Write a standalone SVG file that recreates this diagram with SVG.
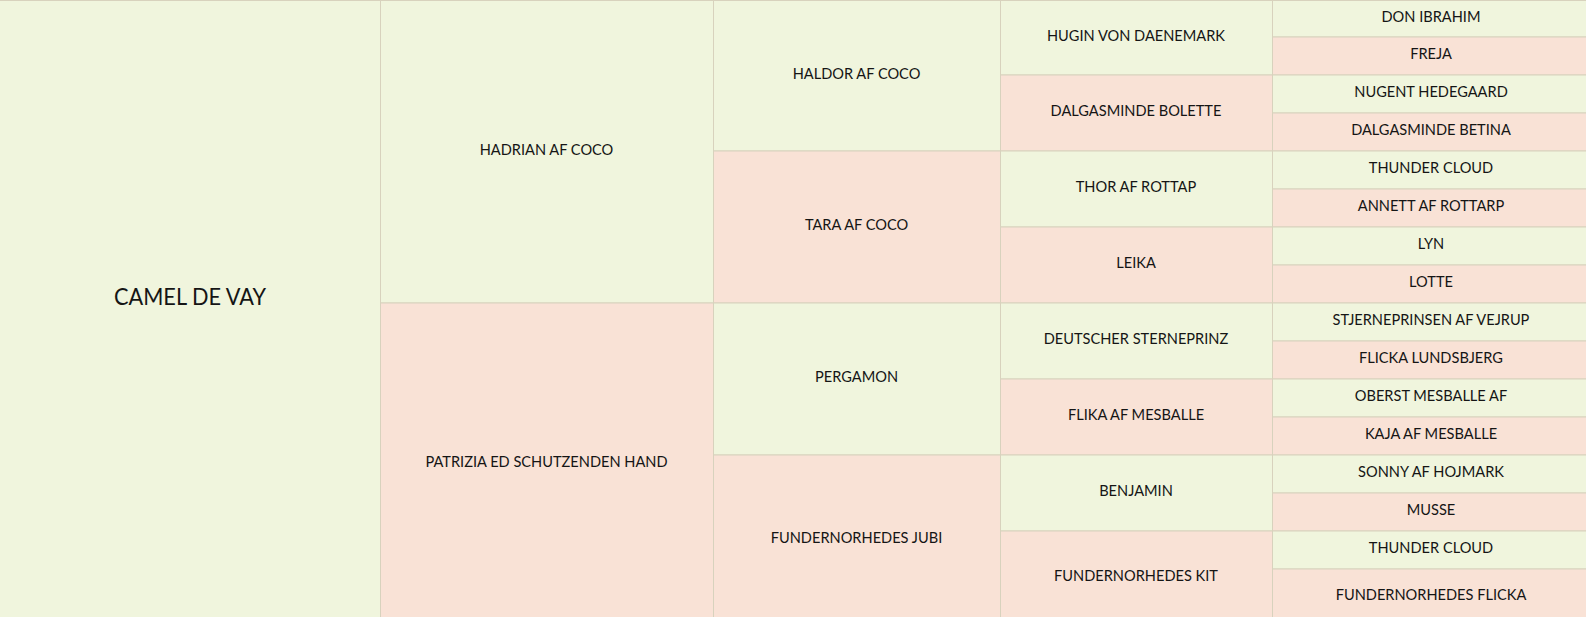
<svg xmlns="http://www.w3.org/2000/svg" width="1586" height="617" viewBox="0 0 1586 617">
<style>
.g{fill:#f0f5dd;stroke:#d8d2bd;stroke-width:1}
.p{fill:#f9e2d6;stroke:#d8d2bd;stroke-width:1}
text{font-family:"Lato","Open Sans",sans-serif;font-size:14.6px;fill:#151515;text-anchor:middle}
.big{font-size:24px}
</style>
<rect x="0" y="0" width="1586" height="617" fill="#f0f5dd"/>
<g id="n1"><rect class="g" x="-1" y="0.5" width="381.5" height="630"/><text class="big" x="190" y="305" textLength="152" lengthAdjust="spacingAndGlyphs">CAMEL DE VAY</text></g>
<g id="n2"><rect class="g" x="380.5" y="0.5" width="333" height="302.5"/><text x="546.5" y="154.8">HADRIAN AF COCO</text></g>
<g id="n3"><rect class="p" x="380.5" y="303" width="333" height="330"/><text x="546.5" y="466.8">PATRIZIA ED SCHUTZENDEN HAND</text></g>
<g id="n4"><rect class="g" x="713.5" y="0.5" width="287" height="150.5"/><text x="856.5" y="78.8">HALDOR AF COCO</text></g>
<g id="n5"><rect class="p" x="713.5" y="151" width="287" height="152"/><text x="856.5" y="230.3">TARA AF COCO</text></g>
<g id="n6"><rect class="g" x="713.5" y="303" width="287" height="152"/><text x="856.5" y="382.3">PERGAMON</text></g>
<g id="n7"><rect class="p" x="713.5" y="455" width="287" height="180"/><text x="856.5" y="542.8">FUNDERNORHEDES JUBI</text></g>
<g id="n8"><rect class="g" x="1000.5" y="0.5" width="272" height="74.5"/><text x="1136" y="40.8">HUGIN VON DAENEMARK</text></g>
<g id="n9"><rect class="p" x="1000.5" y="75" width="272" height="76"/><text x="1136" y="116.3">DALGASMINDE BOLETTE</text></g>
<g id="n10"><rect class="g" x="1000.5" y="151" width="272" height="76"/><text x="1136" y="192.3">THOR AF ROTTAP</text></g>
<g id="n11"><rect class="p" x="1000.5" y="227" width="272" height="76"/><text x="1136" y="268.3">LEIKA</text></g>
<g id="n12"><rect class="g" x="1000.5" y="303" width="272" height="76"/><text x="1136" y="344.3">DEUTSCHER STERNEPRINZ</text></g>
<g id="n13"><rect class="p" x="1000.5" y="379" width="272" height="76"/><text x="1136" y="420.3">FLIKA AF MESBALLE</text></g>
<g id="n14"><rect class="g" x="1000.5" y="455" width="272" height="76"/><text x="1136" y="496.3">BENJAMIN</text></g>
<g id="n15"><rect class="p" x="1000.5" y="531" width="272" height="100"/><text x="1136" y="580.8">FUNDERNORHEDES KIT</text></g>
<g id="n16"><rect class="g" x="1272.5" y="0.5" width="320" height="36.5"/><text x="1431" y="21.8">DON IBRAHIM</text></g>
<g id="n17"><rect class="p" x="1272.5" y="37" width="320" height="38"/><text x="1431" y="59.3">FREJA</text></g>
<g id="n18"><rect class="g" x="1272.5" y="75" width="320" height="38"/><text x="1431" y="97.3">NUGENT HEDEGAARD</text></g>
<g id="n19"><rect class="p" x="1272.5" y="113" width="320" height="38"/><text x="1431" y="135.3">DALGASMINDE BETINA</text></g>
<g id="n20"><rect class="g" x="1272.5" y="151" width="320" height="38"/><text x="1431" y="173.3">THUNDER CLOUD</text></g>
<g id="n21"><rect class="p" x="1272.5" y="189" width="320" height="38"/><text x="1431" y="211.3">ANNETT AF ROTTARP</text></g>
<g id="n22"><rect class="g" x="1272.5" y="227" width="320" height="38"/><text x="1431" y="249.3">LYN</text></g>
<g id="n23"><rect class="p" x="1272.5" y="265" width="320" height="38"/><text x="1431" y="287.3">LOTTE</text></g>
<g id="n24"><rect class="g" x="1272.5" y="303" width="320" height="38"/><text x="1431" y="325.3">STJERNEPRINSEN AF VEJRUP</text></g>
<g id="n25"><rect class="p" x="1272.5" y="341" width="320" height="38"/><text x="1431" y="363.3">FLICKA LUNDSBJERG</text></g>
<g id="n26"><rect class="g" x="1272.5" y="379" width="320" height="38"/><text x="1431" y="401.3">OBERST MESBALLE AF</text></g>
<g id="n27"><rect class="p" x="1272.5" y="417" width="320" height="38"/><text x="1431" y="439.3">KAJA AF MESBALLE</text></g>
<g id="n28"><rect class="g" x="1272.5" y="455" width="320" height="38"/><text x="1431" y="477.3">SONNY AF HOJMARK</text></g>
<g id="n29"><rect class="p" x="1272.5" y="493" width="320" height="38"/><text x="1431" y="515.3">MUSSE</text></g>
<g id="n30"><rect class="g" x="1272.5" y="531" width="320" height="38"/><text x="1431" y="553.3">THUNDER CLOUD</text></g>
<g id="n31"><rect class="p" x="1272.5" y="569" width="320" height="60"/><text x="1431" y="599.8">FUNDERNORHEDES FLICKA</text></g>
<g id="connectors"></g>
</svg>
